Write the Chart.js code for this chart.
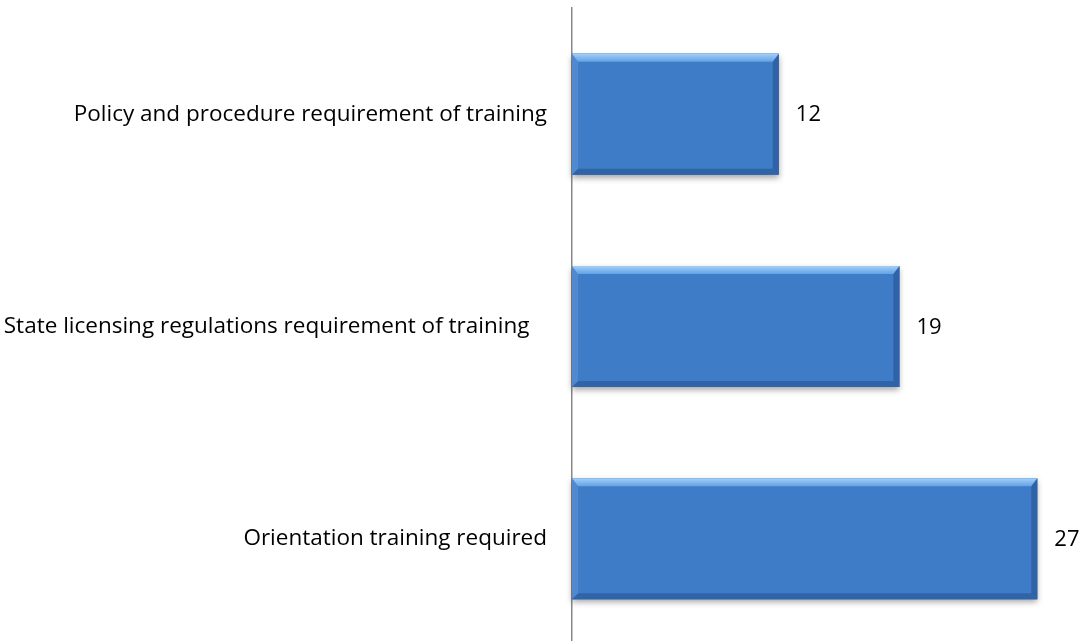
<!DOCTYPE html>
<html lang="en">
<head>
  <meta charset="UTF-8" />
  <title>Training Requirements</title>
  <script src="https://cdn.jsdelivr.net/npm/chart.js"></script>
  <style>
    body {
      margin: 0;
      background: #fff;
      overflow: hidden;
    }
    .chart-box {
      position: relative;
      width: 1089px;
      height: 645px;
    }
  </style>
</head>
<body>
  <div class="chart-box">
    <canvas id="trainingChart"></canvas>
  </div>

  <script>
    const categories = [
      'Policy and procedure requirement of training',
      'State licensing regulations requirement of training   ',
      'Orientation training required'
    ];
    const counts = [12, 19, 27];

    const FONT = '"Open Sans", sans-serif';
    const FONT_SIZE = 22.5;

    // soft shadow under each bar, drawn before the library paints the bar
    const barShadow = {
      id: 'barShadow',
      beforeDatasetsDraw(chart) {
        const ctx = chart.ctx;
        ctx.save();
        ctx.shadowColor = 'rgba(0, 0, 0, 0.35)';
        ctx.shadowBlur = 6;
        ctx.shadowOffsetY = 3;
        ctx.fillStyle = '#3a6fb5';
        chart.getDatasetMeta(0).data.forEach(bar => {
          ctx.fillRect(bar.base, bar.y - bar.height / 2, bar.x - bar.base, bar.height);
        });
        ctx.restore();
      }
    };

    // bevel edges + value labels
    const bevelAndLabels = {
      id: 'bevelAndLabels',
      afterDatasetsDraw(chart) {
        const ctx = chart.ctx;
        const meta = chart.getDatasetMeta(0);
        ctx.save();
        meta.data.forEach((bar, i) => {
          const l = bar.base, r = bar.x;
          const t = bar.y - bar.height / 2, b = bar.y + bar.height / 2;
          const bt = 8, bb = 6, bs = 6;

          // top edge (light)
          let g = ctx.createLinearGradient(0, t, 0, t + bt);
          g.addColorStop(0, '#a3cff5');
          g.addColorStop(1, '#62a2e6');
          ctx.fillStyle = g;
          ctx.beginPath();
          ctx.moveTo(l, t); ctx.lineTo(r, t);
          ctx.lineTo(r - bs, t + bt); ctx.lineTo(l + bs, t + bt);
          ctx.closePath(); ctx.fill();

          // bottom edge (dark)
          ctx.fillStyle = 'rgba(30, 70, 130, 0.45)';
          ctx.beginPath();
          ctx.moveTo(l, b); ctx.lineTo(r, b);
          ctx.lineTo(r - bs, b - bb); ctx.lineTo(l + bs, b - bb);
          ctx.closePath(); ctx.fill();

          // left edge
          ctx.fillStyle = 'rgba(120, 170, 230, 0.3)';
          ctx.beginPath();
          ctx.moveTo(l, t); ctx.lineTo(l + bs, t + bt);
          ctx.lineTo(l + bs, b - bb); ctx.lineTo(l, b);
          ctx.closePath(); ctx.fill();

          // right edge
          ctx.fillStyle = 'rgba(25, 60, 115, 0.4)';
          ctx.beginPath();
          ctx.moveTo(r, t); ctx.lineTo(r - bs, t + bt);
          ctx.lineTo(r - bs, b - bb); ctx.lineTo(r, b);
          ctx.closePath(); ctx.fill();

          // value label
          ctx.fillStyle = '#000';
          ctx.font = '22px ' + FONT;
          ctx.textAlign = 'left';
          ctx.textBaseline = 'middle';
          ctx.fillText(counts[i], r + 17, bar.y + 1);
        });
        ctx.restore();
      }
    };

    new Chart(document.getElementById('trainingChart'), {
      type: 'bar',
      data: {
        labels: categories,
        datasets: [{
          data: counts,
          borderWidth: 0,
          barPercentage: 0.57,
          categoryPercentage: 1,
          backgroundColor(context) {
            const bar = context.element;
            if (!bar || bar.height === undefined || isNaN(bar.y)) return '#3f7cc8';
            const t = bar.y - bar.height / 2;
            const g = context.chart.ctx.createLinearGradient(0, t, 0, t + bar.height);
            g.addColorStop(0, '#4a8ad9');
            g.addColorStop(0.5, '#3f7bc8');
            g.addColorStop(1, '#3567b0');
            return g;
          }
        }]
      },
      options: {
        indexAxis: 'y',
        responsive: true,
        maintainAspectRatio: false,
        animation: false,
        layout: { padding: { top: 8, right: 0, bottom: 0, left: 0 } },
        plugins: {
          legend: { display: false },
          tooltip: { enabled: false }
        },
        scales: {
          x: {
            display: false,
            min: 0,
            max: 30
          },
          y: {
            afterFit(scale) {
              scale.width = 572;
              scale.paddingTop = 0;
              scale.paddingBottom = 0;
            },
            grid: { display: false, drawTicks: false },
            border: { display: true, color: '#888', width: 1.5 },
            ticks: {
              color: '#000',
              padding: 25,
              font: { family: FONT, size: FONT_SIZE }
            }
          }
        }
      },
      plugins: [barShadow, bevelAndLabels]
    });
  </script>
</body>
</html>
